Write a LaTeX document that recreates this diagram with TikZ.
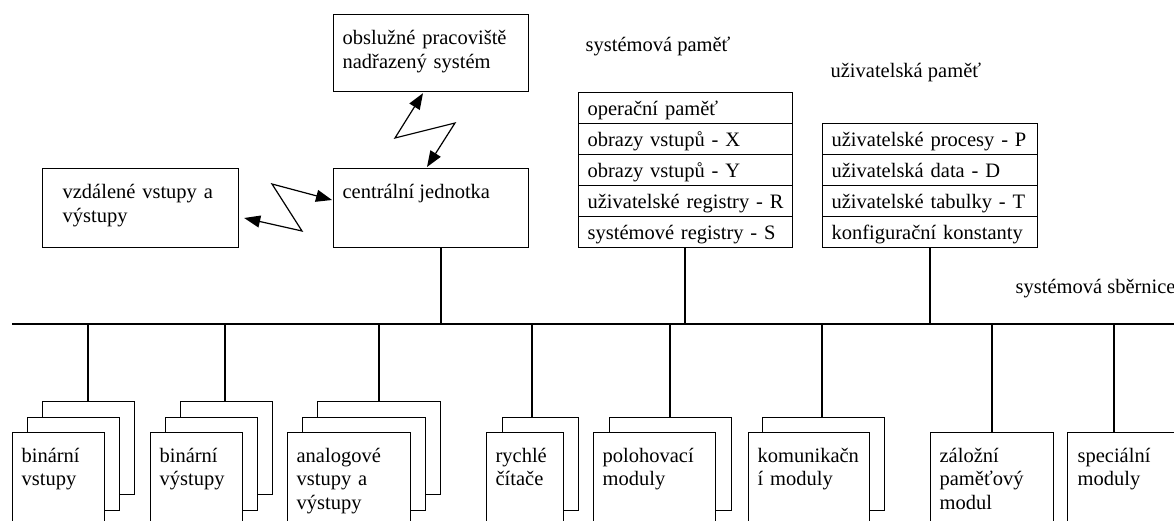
\documentclass[tikz,border=0pt]{standalone}
\usepackage{fontspec}
\setmainfont{Liberation Serif}
\usetikzlibrary{arrows.meta}
\begin{document}
\begin{tikzpicture}[x=1pt,y=-1pt,line width=1.2pt,
  txt/.style={font=\fontsize{20.5}{23.5}\selectfont},
  box/.style={draw,anchor=north west,inner sep=0pt},
  card/.style={draw,fill=white,anchor=north west,inner sep=0pt,minimum height=93pt},
  lbl/.style={txt,anchor=base west,inner sep=0pt,align=left},
  mlbl/.style={txt,anchor=base west,inner sep=0pt,text width=#1,align=left},
  row/.style={txt,draw,anchor=north west,minimum height=31pt,text height=17.5pt,text depth=2.5pt,inner xsep=9pt,inner ysep=0pt,text width=#1,align=left},
  link/.style={{Triangle[length=16pt,width=12pt]}-{Triangle[length=16pt,width=12pt]},line width=1.2pt,line join=miter}]
\useasboundingbox (0,0) rectangle (1174,521);
\clip (0,0) rectangle (1174,521);

% top boxes
\node[box,minimum width=195pt,minimum height=77pt] (obs) at (333,14) {};
\node[box,minimum width=195pt,minimum height=79pt] (cu) at (333,168) {};
\node[box,minimum width=196pt,minimum height=79pt] (vz) at (42,168) {};
\node[mlbl=180pt] (obst) at (342,45) {obslužné pracoviště\\nadřazený systém};
\node[lbl] (cut) at (342,199) {centrální jednotka};
\node[mlbl=180pt] (vzt) at (62,199) {vzdálené vstupy a\\výstupy};

% zigzag links
\draw[link] ([shift={(90,1)}]obs.south west) -- (395,138) -- (455,123) -- ([shift={(94,-1)}]cu.north west);
\draw[link] ([shift={(5,50)}]vz.north east) -- (302,231) -- (272,184) -- ([shift={(-1,32)}]cu.north west);

% system memory
\node[lbl] (smt) at (585,52) {systémová paměť};
\node[row=196pt] (sm1) at (578,92) {operační paměť};
\node[row=196pt] (sm2) at (578,123) {obrazy vstupů - X};
\node[row=196pt] (sm3) at (578,154) {obrazy vstupů - Y};
\node[row=196pt] (sm4) at (578,185) {uživatelské registry - R};
\node[row=196pt] (sm5) at (578,216) {systémové registry - S};

% user memory
\node[lbl] (umt) at (830,78) {uživatelská paměť};
\node[row=197pt] (um1) at (822,123) {uživatelské procesy - P};
\node[row=197pt] (um2) at (822,154) {uživatelská data - D};
\node[row=197pt] (um3) at (822,185) {uživatelské tabulky - T};
\node[row=197pt] (um4) at (822,216) {konfigurační konstanty};

% bus
\coordinate (busL) at (12,324);
\coordinate (busR) at (1174,324);
\draw (busL) -- (busR);
\node[lbl] (bust) at (1015,293) {systémová sběrnice};

\coordinate (t1) at (441,324);
\coordinate (t2) at (685,324);
\coordinate (t3) at (930,324);
\draw (t1 |- cu.south) -- (t1);
\draw (t2 |- sm5.south) -- (t2);
\draw (t3 |- um4.south) -- (t3);

% modules
\coordinate (b1) at (88,324);
\coordinate (b2) at (225,324);
\coordinate (b3) at (379,324);
\coordinate (b4) at (532,324);
\coordinate (b5) at (670,324);
\coordinate (b6) at (822,324);
\coordinate (b7) at (992,324);
\coordinate (b8) at (1114,324);

% binarni vstupy
\node[card,minimum width=92pt] (m1c) at (42,401) {};
\node[card,minimum width=92pt] (m1b) at (27,417) {};
\node[card,minimum width=92pt] (m1a) at (12,432) {};
\draw (b1) -- (b1 |- m1c.north);
\node[mlbl=85pt] (m1t) at (21,462) {binární\\vstupy};

% binarni vystupy
\node[card,minimum width=92pt] (m2c) at (180,401) {};
\node[card,minimum width=92pt] (m2b) at (165,417) {};
\node[card,minimum width=92pt] (m2a) at (150,432) {};
\draw (b2) -- (b2 |- m2c.north);
\node[mlbl=85pt] (m2t) at (159,462) {binární\\výstupy};

% analogove
\node[card,minimum width=123pt] (m3c) at (317,401) {};
\node[card,minimum width=123pt] (m3b) at (302,417) {};
\node[card,minimum width=123pt] (m3a) at (287,432) {};
\draw (b3) -- (b3 |- m3c.north);
\node[mlbl=115pt] (m3t) at (296,462) {analogové\\vstupy a\\výstupy};

% rychle citace
\node[card,minimum width=76pt] (m4b) at (502,417) {};
\node[card,minimum width=77pt] (m4a) at (486,432) {};
\draw (b4) -- (b4 |- m4b.north);
\node[mlbl=70pt] (m4t) at (495,462) {rychlé\\čítače};

% polohovaci
\node[card,minimum width=122pt] (m5b) at (609,417) {};
\node[card,minimum width=122pt] (m5a) at (593,432) {};
\draw (b5) -- (b5 |- m5b.north);
\node[mlbl=115pt] (m5t) at (602,462) {polohovací\\moduly};

% komunikacni
\node[card,minimum width=122pt] (m6b) at (762,417) {};
\node[card,minimum width=121pt] (m6a) at (748,432) {};
\draw (b6) -- (b6 |- m6b.north);
\node[mlbl=115pt] (m6t) at (757,462) {komunikačn\\í moduly};

% zalozni
\node[card,minimum width=123pt] (m7a) at (930,432) {};
\draw (b7) -- (b7 |- m7a.north);
\node[mlbl=115pt] (m7t) at (939,462) {záložní\\paměťový\\modul};

% specialni
\node[card,minimum width=130pt] (m8a) at (1067,432) {};
\draw (b8) -- (b8 |- m8a.north);
\node[mlbl=100pt] (m8t) at (1077,462) {speciální\\moduly};
\end{tikzpicture}
\end{document}
